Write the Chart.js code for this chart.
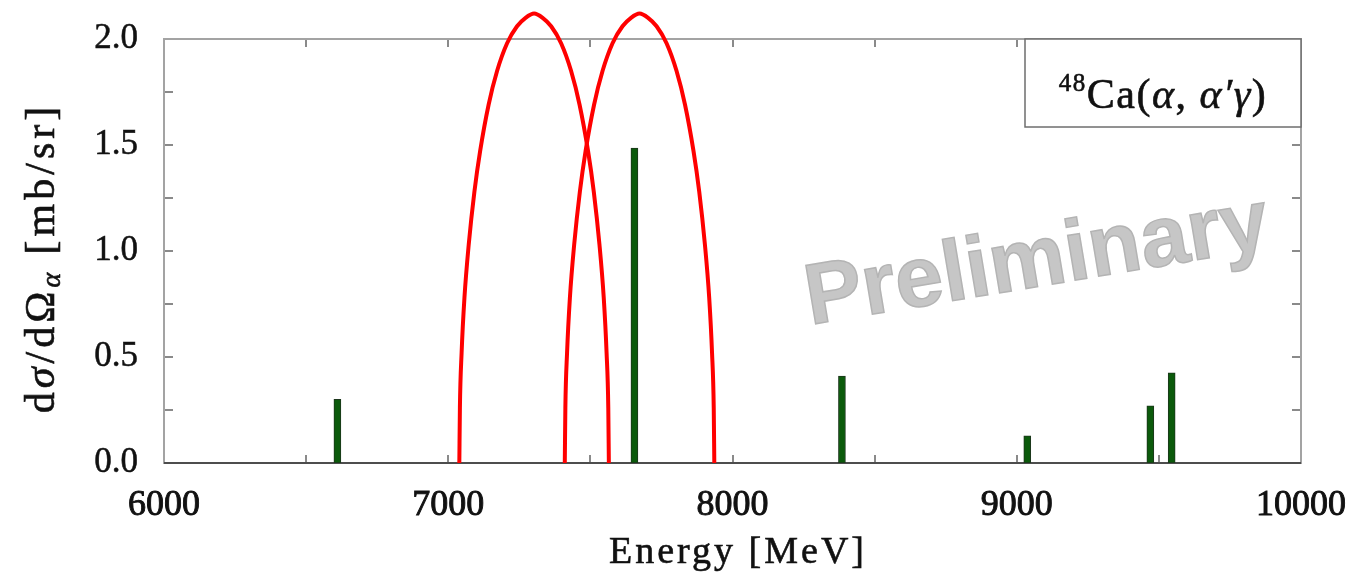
<!DOCTYPE html>
<html>
<head>
<meta charset="utf-8">
<script src="https://cdn.jsdelivr.net/npm/chart.js@4.4.0/dist/chart.umd.min.js"></script>
<style>
  html, body { margin: 0; padding: 0; background: #fff; }
</style>
</head>
<body>
<canvas id="spectrum" width="1359" height="586"></canvas>
<script>
// measured strengths (green sticks)
const barEnergies = [6610, 7655, 8385, 9037, 9470, 9545];
const barValues = [0.30, 1.485, 0.41, 0.128, 0.27, 0.425];

// red resolution envelopes
const arc1Energies = [7039, 7041, 7047, 7057, 7072, 7092, 7112, 7142, 7172, 7207, 7242, 7272, 7302,
                      7332, 7362, 7397, 7432, 7462, 7492, 7512, 7532, 7547, 7557, 7563, 7565];
const arc1Values = [0, 0.26, 0.52, 0.78, 1.03, 1.28, 1.47, 1.69, 1.85, 1.98, 2.06, 2.10, 2.12,
                    2.10, 2.06, 1.98, 1.85, 1.69, 1.47, 1.28, 1.03, 0.78, 0.52, 0.26, 0];
const arc2Energies = [7410, 7412, 7418, 7428, 7443, 7463, 7483, 7513, 7543, 7578, 7613, 7643, 7673,
                      7703, 7733, 7768, 7803, 7833, 7863, 7883, 7903, 7918, 7928, 7934, 7936];
const arc2Values = [0, 0.26, 0.52, 0.78, 1.03, 1.28, 1.47, 1.69, 1.85, 1.98, 2.06, 2.10, 2.12,
                    2.10, 2.06, 1.98, 1.85, 1.69, 1.47, 1.28, 1.03, 0.78, 0.52, 0.26, 0];

// axis ticks
const xTickLabels = [6000, 7000, 8000, 9000, 10000];
const xMinorTicks = [6500, 7000, 7500, 8000, 8500, 9000, 9500];
const yTickLabels = [0.0, 0.5, 1.0, 1.5, 2.0];
const yMinorTicks = [0.25, 0.5, 0.75, 1.0, 1.25, 1.5, 1.75];

const SERIF = '"Liberation Serif", "Times New Roman", serif';

const toPoints = (xs, ys) => xs.map((x, i) => ({ x: x, y: ys[i] }));

// draws a run of text pieces, each with its own font and vertical shift
const drawRuns = (ctx, runs, cx, cy, spacing) => {
    ctx.letterSpacing = spacing + 'px';
    let total = 0;
    runs.forEach((r) => {
        ctx.font = r.font;
        r.w = ctx.measureText(r.t).width;
        total += r.w;
    });
    let x = cx - total / 2;
    ctx.textAlign = 'left';
    ctx.textBaseline = 'middle';
    ctx.strokeStyle = ctx.fillStyle;
    ctx.lineWidth = 0.6;
    runs.forEach((r) => {
        ctx.font = r.font;
        ctx.fillText(r.t, x, cy + (r.dy || 0));
        ctx.strokeText(r.t, x, cy + (r.dy || 0));
        x += r.w;
    });
    ctx.letterSpacing = '0px';
};

const framePlugin = {
    id: 'frame',
    beforeDatasetsDraw(chart) {
        const { ctx, chartArea: a, scales: { x, y } } = chart;
        ctx.save();

        // watermark
        ctx.save();
        ctx.translate(1041, 286);
        ctx.rotate(-9.5 * Math.PI / 180);
        ctx.font = 'bold 86px "Liberation Sans", Arial, sans-serif';
        ctx.textAlign = 'center';
        ctx.textBaseline = 'alphabetic';
        ctx.fillStyle = '#c6c6c6';
        ctx.strokeStyle = '#b4b4b4';
        ctx.lineWidth = 1.5;
        ctx.fillText('Preliminary', 0, 0);
        ctx.strokeText('Preliminary', 0, 0);
        ctx.restore();

        // inward ticks
        ctx.strokeStyle = '#8a8a8a';
        ctx.lineWidth = 2;
        ctx.beginPath();
        xMinorTicks.forEach((v) => {
            const px = Math.round(x.getPixelForValue(v));
            ctx.moveTo(px, a.bottom); ctx.lineTo(px, a.bottom - 8);
            ctx.moveTo(px, a.top); ctx.lineTo(px, a.top + 8);
        });
        yMinorTicks.forEach((v) => {
            const py = Math.round(y.getPixelForValue(v));
            ctx.moveTo(a.left, py); ctx.lineTo(a.left + 9, py);
            ctx.moveTo(a.right, py); ctx.lineTo(a.right - 9, py);
        });
        ctx.stroke();

        // box
        ctx.strokeStyle = '#a3a3a3';
        ctx.lineWidth = 2;
        ctx.strokeRect(a.left, a.top, a.right - a.left, a.bottom - a.top);
        ctx.strokeStyle = '#4d4d4d';
        ctx.beginPath();
        ctx.moveTo(a.left, a.bottom); ctx.lineTo(a.right, a.bottom);
        ctx.stroke();
        ctx.restore();
    },
    afterDatasetsDraw(chart) {
        const { ctx, chartArea: a } = chart;
        ctx.save();

        // reaction label box
        ctx.fillStyle = '#fff';
        ctx.fillRect(a.right - 276, a.top, 276, 88);
        ctx.strokeStyle = '#6e6e6e';
        ctx.lineWidth = 1.5;
        ctx.strokeRect(a.right - 276, a.top, 276, 88);
        ctx.fillStyle = '#111';
        drawRuns(ctx, [
            { t: '48', font: '25px ' + SERIF, dy: -13 },
            { t: 'Ca(', font: '42px ' + SERIF },
            { t: 'α', font: 'italic 42px ' + SERIF },
            { t: ', ', font: '42px ' + SERIF },
            { t: 'α′γ', font: 'italic 42px ' + SERIF },
            { t: ')', font: '42px ' + SERIF },
        ], a.right - 138, a.top + 58, 1.5);

        // axis titles
        drawRuns(ctx, [{ t: 'Energy [MeV]', font: '38px ' + SERIF }], 738, 553, 3);

        ctx.save();
        ctx.translate(43, 258);
        ctx.rotate(-Math.PI / 2);
        drawRuns(ctx, [
            { t: 'd', font: '42px ' + SERIF },
            { t: 'σ', font: 'italic 42px ' + SERIF },
            { t: '/dΩ', font: '42px ' + SERIF },
            { t: 'α', font: 'italic 28px ' + SERIF, dy: 10 },
            { t: ' [mb/sr]', font: '42px ' + SERIF },
        ], 0, 0, 4);
        ctx.restore();

        ctx.restore();
    },
};

const lineStyle = {
    type: 'line',
    borderColor: '#ff0000',
    borderWidth: 4,
    pointRadius: 0,
    cubicInterpolationMode: 'monotone',
    fill: false,
    clip: false,
};

new Chart(document.getElementById('spectrum'), {
    type: 'bar',
    data: {
        datasets: [
            {
                label: 'strength',
                data: toPoints(barEnergies, barValues),
                backgroundColor: '#0b5a0b',
                borderColor: '#1d361d',
                borderWidth: 1,
                borderSkipped: false,
                barThickness: 7,
            },
            { ...lineStyle, label: 'env1', data: toPoints(arc1Energies, arc1Values) },
            { ...lineStyle, label: 'env2', data: toPoints(arc2Energies, arc2Values) },
        ],
    },
    plugins: [framePlugin],
    options: {
        responsive: false,
        animation: false,
        events: [],
        layout: { autoPadding: false, padding: { left: 0, right: 57, top: 38, bottom: 0 } },
        plugins: {
            legend: { display: false },
            tooltip: { enabled: false },
        },
        scales: {
            x: {
                type: 'linear',
                min: 6000,
                max: 10000,
                offset: false,
                grid: { display: false },
                border: { display: false },
                afterFit: (s) => { s.height = 123; },
                afterBuildTicks: (s) => { s.ticks = xTickLabels.map((v) => ({ value: v })); },
                ticks: {
                    color: '#111',
                    padding: 13,
                    textStrokeColor: '#111',
                    textStrokeWidth: 0.9,
                    font: { family: SERIF, size: 36 },
                    callback: (v) => String(v),
                },
            },
            y: {
                min: 0,
                max: 2,
                grid: { display: false },
                border: { display: false },
                afterFit: (s) => { s.width = 164; },
                afterBuildTicks: (s) => { s.ticks = yTickLabels.map((v) => ({ value: v })); },
                ticks: {
                    color: '#111',
                    padding: 18,
                    textStrokeColor: '#111',
                    textStrokeWidth: 0.5,
                    font: { family: SERIF, size: 35 },
                    callback: (v) => Number(v).toFixed(1),
                },
            },
        },
    },
});
</script>
</body>
</html>
